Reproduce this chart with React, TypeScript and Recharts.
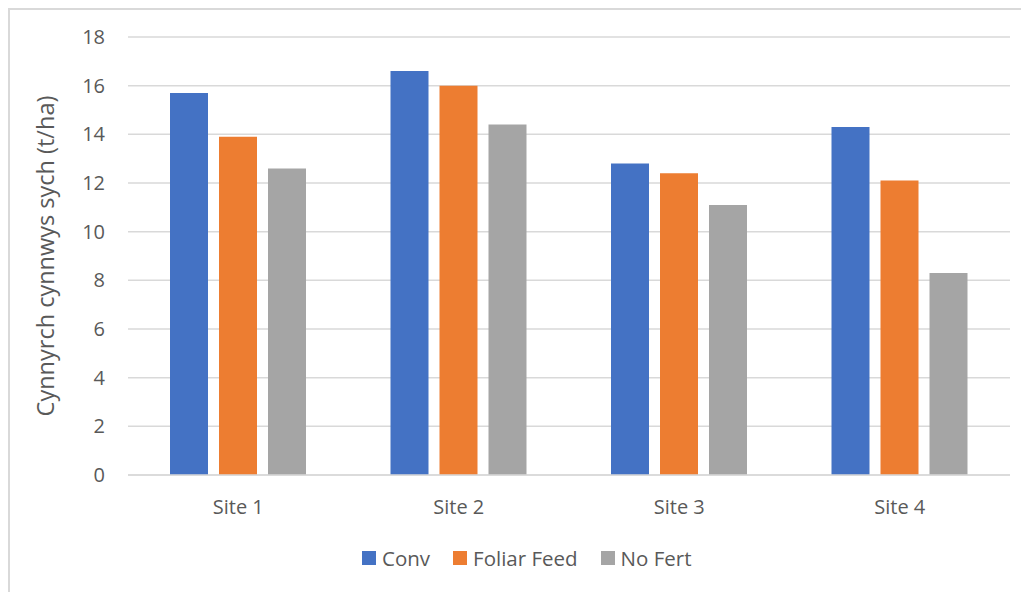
import React from 'react';
import { BarChart, Bar, XAxis, YAxis, CartesianGrid, Legend, Label } from 'recharts';

const sites = ['Site 1', 'Site 2', 'Site 3', 'Site 4'];
const conv = [15.7, 16.6, 12.8, 14.3];
const foliarFeed = [13.9, 16.0, 12.4, 12.1];
const noFert = [12.6, 14.4, 11.1, 8.3];
const yTicks = [0, 2, 4, 6, 8, 10, 12, 14, 16, 18];

const series = [
    { key: 'conv', name: 'Conv', color: '#4472C4' },
    { key: 'foliar', name: 'Foliar Feed', color: '#ED7D31' },
    { key: 'nofert', name: 'No Fert', color: '#A5A5A5' },
];

const data = sites.map((site, i) => ({
    site,
    conv: conv[i],
    foliar: foliarFeed[i],
    nofert: noFert[i],
}));

const FONT = '"Open Sans", sans-serif';
const TEXT = '#595959';

const CustomLegend = ({ payload }: any) => (
    <div style={{ display: 'flex', alignItems: 'center', height: 40, paddingLeft: 352, fontFamily: FONT, fontSize: 20.5, color: TEXT }}>
        {(payload || []).map((p: any) => (
            <div key={p.value} style={{ display: 'flex', alignItems: 'center', marginRight: 23 }}>
                <span style={{ width: 14, height: 14, background: p.color, display: 'inline-block', marginRight: 6 }} />
                <span>{p.value}</span>
            </div>
        ))}
    </div>
);

export default function App() {
    return (
        <div style={{ width: 1021, height: 584, borderLeft: '2px solid #d9d9d9', borderTop: '2px solid #d9d9d9', background: '#fff' }}>
            <BarChart
                width={1019}
                height={582}
                data={data}
                margin={{ top: 27, right: 19, left: 0, bottom: 14 }}
                barSize={38}
                barGap={11}
            >
                <CartesianGrid vertical={false} stroke="#d9d9d9" strokeWidth={1.5} />
                <XAxis
                    dataKey="site"
                    height={63}
                    tickLine={false}
                    tickSize={0}
                    tickMargin={25}
                    axisLine={{ stroke: '#d9d9d9', strokeWidth: 1.5 }}
                    tick={{ fill: TEXT, fontSize: 20, fontFamily: FONT }}
                />
                <YAxis
                    width={118}
                    domain={[0, 18]}
                    ticks={yTicks}
                    axisLine={false}
                    tickLine={false}
                    tickSize={0}
                    tickMargin={23}
                    tick={{ fill: TEXT, fontSize: 20, fontFamily: FONT }}
                >
                    <Label
                        value="Cynnyrch cynnwys sych (t/ha)"
                        angle={-90}
                        position="center"
                        dx={-23}
                        style={{ fill: TEXT, fontSize: 23.5, fontFamily: FONT, textAnchor: 'middle' }}
                    />
                </YAxis>
                <Legend verticalAlign="bottom" height={40} content={<CustomLegend />} />
                {series.map(s => (
                    <Bar key={s.key} dataKey={s.key} name={s.name} fill={s.color} isAnimationActive={false} />
                ))}
            </BarChart>
        </div>
    );
}
